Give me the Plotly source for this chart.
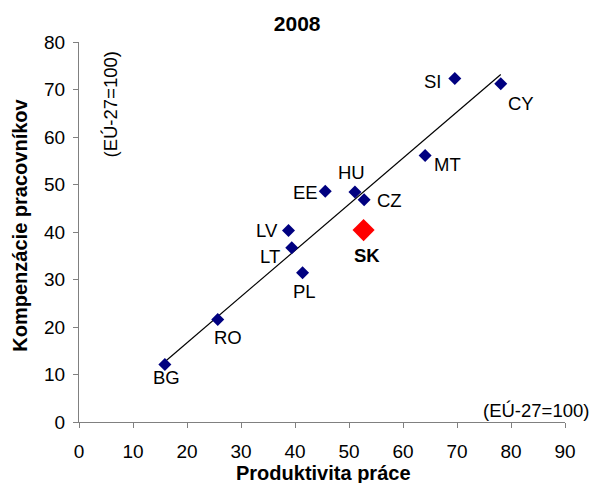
import numpy as np
import plotly.graph_objects as go

# Labour productivity vs. compensation per employee, EU-27 = 100
countries = ["BG", "RO", "LT", "PL", "LV", "EE", "HU", "CZ", "MT", "SI", "CY"]
productivity = [15.9, 25.7, 39.4, 41.4, 38.8, 45.6, 51.1, 52.8, 64.1, 69.6, 78.1]
compensation = [12.1, 21.6, 36.7, 31.4, 40.3, 48.6, 48.4, 46.8, 56.1, 72.3, 71.2]

sk_name = "SK"
sk_productivity = 52.7
sk_compensation = 40.4

# label offsets in pixels (dx, dy) relative to each marker
label_offsets = {
    "BG": (2, -13), "RO": (10, -18), "LT": (-22, -9), "PL": (2, -19),
    "LV": (-22, 0), "EE": (-20, -1), "HU": (-3, 20), "CZ": (25, -1),
    "MT": (22, -9), "SI": (-22, -3), "CY": (20, -20),
}

font_family = "Liberation Sans, Arial, sans-serif"
axis_grey = "#808080"

# linear trend fitted over all countries, Slovakia included
all_x = productivity + [sk_productivity]
all_y = compensation + [sk_compensation]
slope, intercept = np.polyfit(all_x, all_y, 1)
trend_x = np.array([min(all_x), max(all_x)])
trend_y = slope * trend_x + intercept

fig = go.Figure()
fig.add_trace(go.Scatter(x=trend_x, y=trend_y, mode="lines",
                         line=dict(color="black", width=1.2),
                         hoverinfo="skip"))
fig.add_trace(go.Scatter(x=productivity, y=compensation, mode="markers",
                         marker=dict(symbol="diamond", size=10, color="#000080"),
                         text=countries))
fig.add_trace(go.Scatter(x=[sk_productivity], y=[sk_compensation], mode="markers",
                         marker=dict(symbol="diamond", size=17, color="#FF0000"),
                         text=[sk_name]))

label_font = dict(size=18.5, color="black", family=font_family)
annotations = []
for name, px, cy in zip(countries, productivity, compensation):
    dx, dy = label_offsets[name]
    annotations.append(dict(x=px, y=cy, text=name, showarrow=False,
                            xshift=dx, yshift=dy, font=label_font))
annotations.append(dict(x=sk_productivity, y=sk_compensation, text="<b>SK</b>",
                        showarrow=False, xshift=3, yshift=-25, font=label_font))

# unit notes
annotations.append(dict(xref="paper", yref="paper", x=1.0, y=0.0,
                        xshift=26, yshift=12, xanchor="right", yanchor="middle",
                        text="(EÚ-27=100)", showarrow=False,
                        font=dict(size=18.5, color="black", family=font_family)))
annotations.append(dict(xref="paper", yref="paper", x=0.0, y=1.0,
                        xshift=30.5, yshift=-63, xanchor="center", yanchor="middle",
                        text="(EÚ-27=100)", textangle=-90, showarrow=False,
                        font=dict(size=18.5, color="black", family=font_family)))

# axis titles
annotations.append(dict(xref="paper", yref="paper", x=0.503, y=0.0,
                        yshift=-51, xanchor="center", yanchor="middle",
                        text="<b>Produktivita práce</b>", showarrow=False,
                        font=dict(size=20, color="black", family=font_family)))
annotations.append(dict(xref="paper", yref="paper", x=0.0, y=0.518,
                        xshift=-58.5, xanchor="center", yanchor="middle",
                        text="<b>Kompenzácie pracovníkov</b>", textangle=-90,
                        showarrow=False,
                        font=dict(size=20, color="black", family=font_family)))

fig.update_layout(
    width=592, height=483,
    margin=dict(l=79, r=27, t=42, b=61),
    plot_bgcolor="white", paper_bgcolor="white",
    showlegend=False,
    font=dict(family=font_family, size=19, color="black"),
    title=dict(text="<b>2008</b>", x=0.502, xanchor="center",
               y=0.951, yanchor="middle",
               font=dict(size=21, family=font_family, color="black")),
    annotations=annotations,
    xaxis=dict(range=[0, 90], dtick=10, tick0=0, showgrid=False, zeroline=False,
               showline=True, linecolor=axis_grey, linewidth=1,
               ticks="outside", ticklen=5, tickcolor=axis_grey,
               ticklabelstandoff=7, tickfont=dict(size=19)),
    yaxis=dict(range=[0, 80], dtick=10, tick0=0, showgrid=False, zeroline=False,
               showline=True, linecolor=axis_grey, linewidth=1,
               ticks="outside", ticklen=5, tickcolor=axis_grey,
               ticklabelstandoff=4, tickfont=dict(size=19)),
)

fig.write_html("out.html")
